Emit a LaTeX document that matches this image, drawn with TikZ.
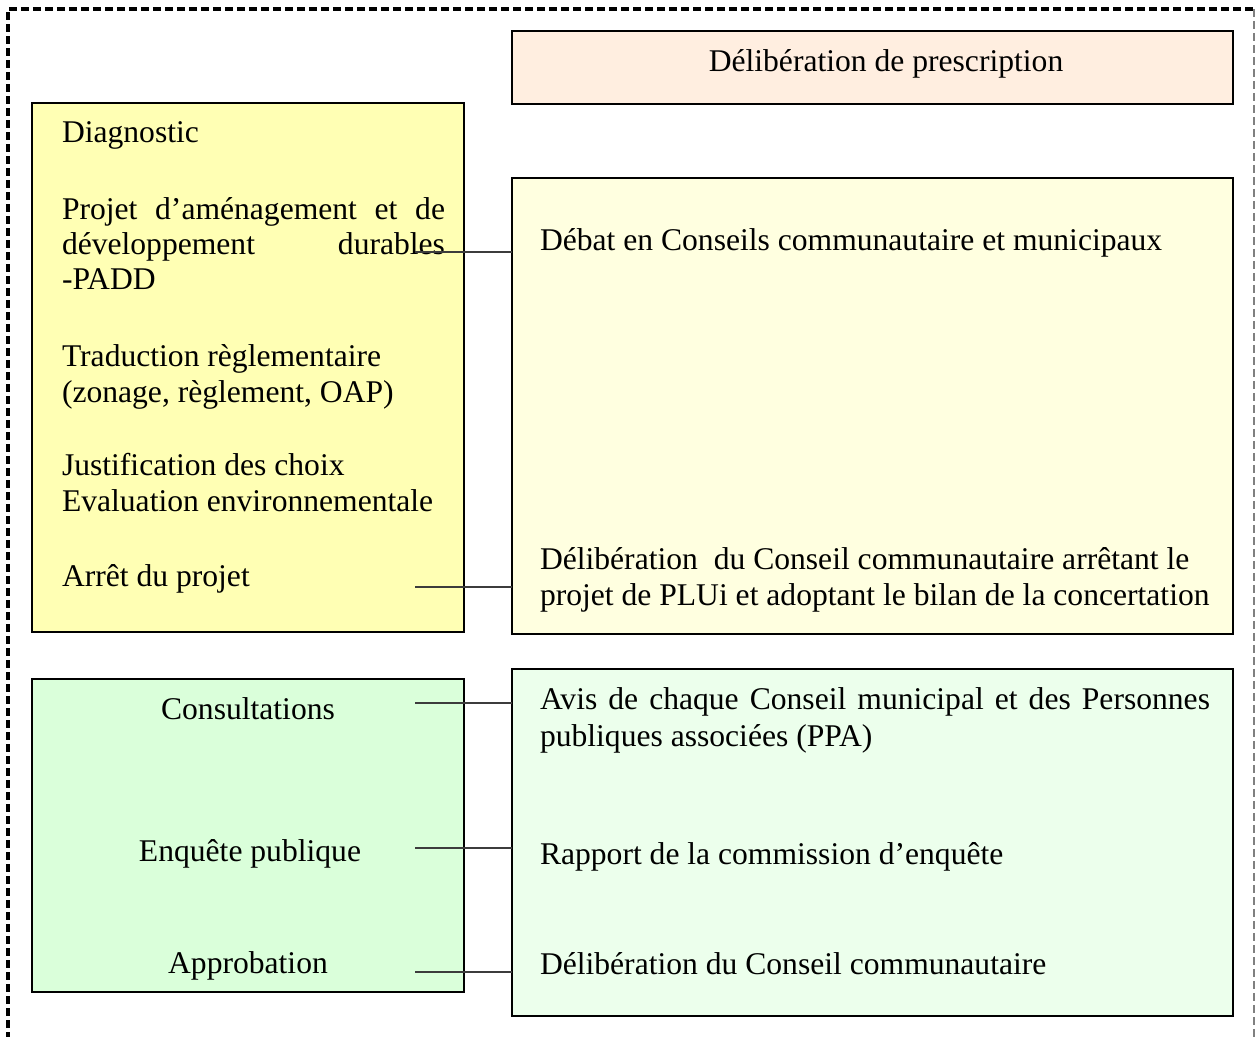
\documentclass[tikz,border=0pt]{standalone}
\usepackage{fontspec}
\setmainfont{Liberation Serif}
\definecolor{peach}{RGB}{255,238,224}
\definecolor{yelA}{RGB}{255,255,180}
\definecolor{yelB}{RGB}{255,255,224}
\definecolor{grnA}{RGB}{218,255,218}
\definecolor{grnB}{RGB}{236,255,236}
\definecolor{conn}{RGB}{60,60,60}
\tikzset{
  box/.style={draw=black, line width=1.1pt, inner sep=0pt, outer sep=0pt, anchor=north west},
  txt/.style={inner sep=0pt, outer sep=0pt, font=\fontsize{15.8}{18}\selectfont},
  link/.style={draw=conn, line width=0.75pt},
  frameA/.style={draw=black, line width=1.6pt, dash pattern=on 4pt off 2pt},
  frameB/.style={draw=gray, line width=0.6pt, dash pattern=on 4pt off 2pt}
}
\begin{document}
\begin{tikzpicture}[x=0.5pt,y=-0.5pt]
\useasboundingbox (0,0) rectangle (1255,1037);
% frame
\draw[frameA] (8,1040) -- (8,9) -- (1254,9);
\draw[frameB] (1254,9) -- (1254,1040);
% boxes
\node[box, fill=peach, minimum width=360.5pt, minimum height=36.5pt] (presc) at (512,31) {};
\node[box, fill=yelA, minimum width=216pt, minimum height=264.5pt] (etudes) at (32,103) {};
\node[box, fill=yelB, minimum width=360.5pt, minimum height=228pt] (delibA) at (512,178) {};
\node[box, fill=grnA, minimum width=216pt, minimum height=156.5pt] (proced) at (32,679) {};
\node[box, fill=grnB, minimum width=360.5pt, minimum height=173.5pt] (avis) at (512,669) {};
% texts
\node[txt, anchor=base] (tpresc) at (886,72) {Délibération de prescription};
\node[txt, anchor=base west] (t1) at (62,143) {Diagnostic};
\node[txt, anchor=base west] (t2a) at (62,220) {\makebox[191.5pt][s]{Projet d’aménagement et de}};
\node[txt, anchor=base west] (t2b) at (62,255) {\makebox[191.5pt][s]{développement\hfill durables}};
\node[txt, anchor=base west] (t2c) at (62,290) {-PADD};
\node[txt, anchor=base west] (t3a) at (62,367) {Traduction règlementaire};
\node[txt, anchor=base west] (t3b) at (62,403) {(zonage, règlement, OAP)};
\node[txt, anchor=base west] (t4a) at (62,476) {Justification des choix};
\node[txt, anchor=base west] (t4b) at (62,512) {Evaluation environnementale};
\node[txt, anchor=base west] (t5) at (62,587) {Arrêt du projet};
\node[txt, anchor=base west] (r1) at (540,251) {Débat en Conseils communautaire et municipaux};
\node[txt, anchor=base west] (r2a) at (540,570) {Délibération\ \ du Conseil communautaire arrêtant le};
\node[txt, anchor=base west] (r2b) at (540,606) {projet de PLUi et adoptant le bilan de la concertation};
\node[txt, anchor=base] (g1) at (248,720) {Consultations};
\node[txt, anchor=base] (g2) at (250,862) {Enquête publique};
\node[txt, anchor=base] (g3) at (248,973) {Approbation};
\node[txt, anchor=base west] (h1a) at (540,710) {\makebox[335pt][s]{Avis de chaque Conseil municipal et des Personnes}};
\node[txt, anchor=base west] (h1b) at (540,747) {publiques associées (PPA)};
\node[txt, anchor=base west] (h2) at (540,865) {Rapport de la commission d’enquête};
\node[txt, anchor=base west] (h3) at (540,975) {Délibération du Conseil communautaire};
% connectors
\coordinate (c1) at (415,252);
\coordinate (c2) at (415,587);
\coordinate (c3) at (415,703);
\coordinate (c4) at (415,848);
\coordinate (c5) at (415,972);
\draw[link] (c1) -- (c1 -| delibA.west);
\draw[link] (c2) -- (c2 -| delibA.west);
\draw[link] (c3) -- (c3 -| avis.west);
\draw[link] (c4) -- (c4 -| avis.west);
\draw[link] (c5) -- (c5 -| avis.west);
\end{tikzpicture}
\end{document}
